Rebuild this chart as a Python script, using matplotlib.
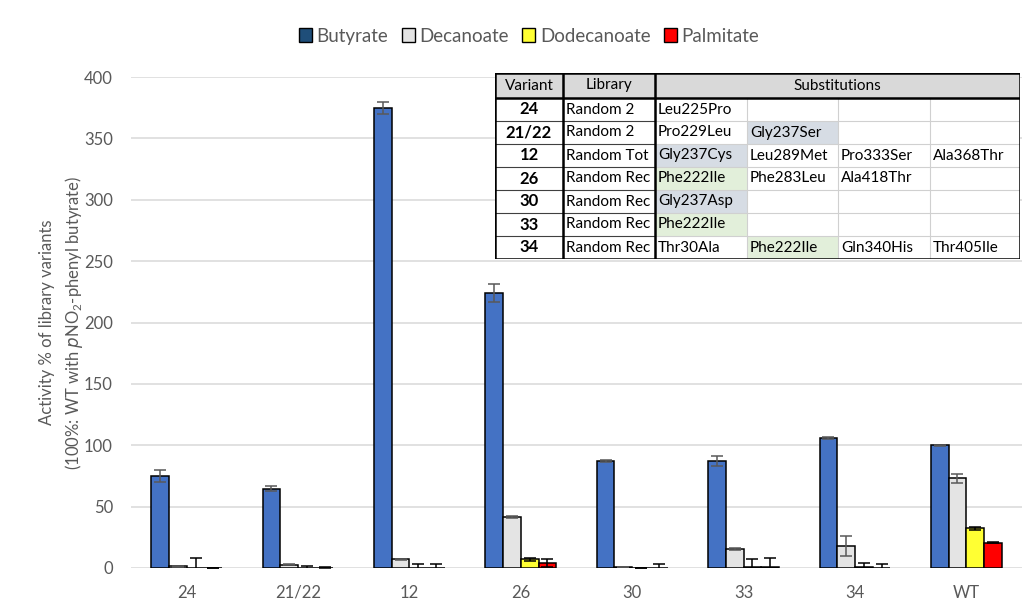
import numpy as np
import matplotlib.pyplot as plt
from matplotlib.patches import Rectangle, Patch

plt.rcParams['font.family'] = ['Lato', 'DejaVu Sans']
plt.rcParams['mathtext.fontset'] = 'custom'
plt.rcParams['mathtext.rm'] = 'Lato'
plt.rcParams['mathtext.it'] = 'DejaVu Sans:italic'

# activity (% of WT with pNO2-phenyl butyrate) per variant and substrate
variants = ['24', '21/22', '12', '26', '30', '33', '34', 'WT']
substrates = ['Butyrate', 'Decanoate', 'Dodecanoate', 'Palmitate']

butyrate = [75, 64.5, 375, 224, 87, 87, 106, 100]
butyrate_err = [5, 2, 5, 7, 0.6, 4, 0.6, 0.6]
decanoate = [1.5, 2.8, 7, 41.5, 0.5, 15.5, 18, 73]
decanoate_err = [0.4, 0.4, 0.4, 0.8, 0, 0.5, 8, 3.5]
dodecanoate = [0, 0, 0, 7, 0, 1, 0.8, 32.5]
dodecanoate_err = [8, 1.5, 3.5, 1.5, 0, 6, 3.5, 1.2]
palmitate = [0, 0.4, 0, 4, 0, 1, 0, 20.5]
palmitate_err = [0, 0.4, 3.5, 3, 3, 7, 3, 0.3]

series = [butyrate, decanoate, dodecanoate, palmitate]
series_err = [butyrate_err, decanoate_err, dodecanoate_err, palmitate_err]
colors = ['#4472C4', '#E4E4E4', '#FFFF33', '#FF0000']
legend_colors = ['#1F4E79', '#E4E4E4', '#FFFF33', '#FF0000']
err_colors = ['#595959', '#595959', '#000000', '#000000']

# substitution table shown over the chart
table_header = ['Variant', 'Library', 'Substitutions']
table_variants = ['24', '21/22', '12', '26', '30', '33', '34']
table_library = ['Random 2', 'Random 2', 'Random Tot', 'Random Rec',
                 'Random Rec', 'Random Rec', 'Random Rec']
table_subs = [
    ['Leu225Pro'],
    ['Pro229Leu', 'Gly237Ser'],
    ['Gly237Cys', 'Leu289Met', 'Pro333Ser', 'Ala368Thr'],
    ['Phe222Ile', 'Phe283Leu', 'Ala418Thr'],
    ['Gly237Asp'],
    ['Phe222Ile'],
    ['Thr30Ala', 'Phe222Ile', 'Gln340His', 'Thr405Ile'],
]
shade = {'Gly237': '#D6DCE4', 'Phe222': '#E2EFDA'}

text_grey = '#595959'

fig = plt.figure(figsize=(10.34, 6.11), dpi=100)
ax = fig.add_axes([131 / 1034, 1 - 568 / 611, 891 / 1034, 491 / 611])

x = np.arange(len(variants))
width = 0.159
for i, (vals, errs) in enumerate(zip(series, series_err)):
    pos = x + (i - 1.5) * width
    ax.bar(pos, vals, width, color=colors[i], edgecolor='black',
           linewidth=1.1, zorder=3)
    ax.errorbar(pos, vals, yerr=errs, fmt='none', ecolor=err_colors[i],
                elinewidth=1.1, capsize=4, capthick=1.1, zorder=4)

ax.set_xlim(-0.5, len(variants) - 0.5)
ax.set_ylim(0, 400)
ax.set_yticks(np.arange(0, 401, 50))
ax.set_xticks(x)
ax.set_xticklabels(variants)
ax.tick_params(length=0, labelsize=12, labelcolor=text_grey)
ax.tick_params(axis='y', pad=13)
ax.tick_params(axis='x', pad=12)
ax.grid(axis='y', color='#D9D9D9', linewidth=1.1, zorder=0)
for s in ax.spines.values():
    s.set_visible(False)
ax.set_ylabel('Activity % of library variants\n'
              r'(100%: WT with $\it{p}$NO$_2$-phenyl butyrate)',
              fontsize=12, color=text_grey, linespacing=1.45)
ax.yaxis.set_label_coords(-0.052, 0.5)

handles = [Patch(facecolor=c, edgecolor='black', linewidth=1) for c in legend_colors]
fig.legend(handles, substrates, loc='center', bbox_to_anchor=(0.5116, 0.941),
           ncol=4, frameon=False, fontsize=13.5, handlelength=0.7,
           handleheight=0.7, handletextpad=0.25, columnspacing=0.7,
           labelcolor=text_grey)

# table drawn in pixel-like units on its own axes
tx = fig.add_axes([495 / 1034, 1 - 259 / 611, 525 / 1034, 186 / 611])
tx.set_xlim(495, 1020)
tx.set_ylim(259, 73)
tx.axis('off')
cols = [495, 563, 655, 747, 838, 930, 1020]
top, head_bottom = 73, 98
row_h = (259 - head_bottom) / len(table_variants)
rows = [head_bottom + k * row_h for k in range(len(table_variants) + 1)]

tx.add_patch(Rectangle((cols[0], top), cols[-1] - cols[0], 259 - top,
                       facecolor='white', edgecolor='none', zorder=1))
tx.add_patch(Rectangle((cols[0], top), cols[-1] - cols[0], head_bottom - top,
                       facecolor='#D9D9D9', edgecolor='none', zorder=1))
for r, subs in enumerate(table_subs):
    for c, name in enumerate(subs):
        fill = shade.get(name[:6])
        if fill is not None:
            tx.add_patch(Rectangle((cols[2 + c], rows[r]), cols[3 + c] - cols[2 + c],
                                   row_h, facecolor=fill, edgecolor='none', zorder=1))

# thin inner grid
for yy in rows[1:-1]:
    tx.plot([cols[0], cols[2]], [yy, yy], color='#404040', lw=0.8, zorder=2)
    tx.plot([cols[2], cols[-1]], [yy, yy], color='#D0D0D0', lw=0.8, zorder=2)
for xx in cols[3:-1]:
    tx.plot([xx, xx], [head_bottom, 259], color='#D0D0D0', lw=0.8, zorder=2)
# heavy borders
tx.plot([cols[0], cols[-1]], [head_bottom, head_bottom], color='black', lw=1.8, zorder=3)
for xx in cols[1:3]:
    tx.plot([xx, xx], [top, 259], color='black', lw=1.8, zorder=3)
tx.add_patch(Rectangle((cols[0], top), cols[-1] - cols[0], 259 - top,
                       facecolor='none', edgecolor='black', lw=1.8, zorder=3))

hy = (top + head_bottom) / 2
tx.text((cols[0] + cols[1]) / 2, hy, table_header[0], ha='center', va='center',
        fontsize=11, zorder=4)
tx.text((cols[1] + cols[2]) / 2, hy, table_header[1], ha='center', va='center',
        fontsize=11, zorder=4)
tx.text((cols[2] + cols[-1]) / 2, hy, table_header[2], ha='center', va='center',
        fontsize=11, zorder=4)
for r in range(len(table_variants)):
    cy = rows[r] + row_h / 2
    tx.text((cols[0] + cols[1]) / 2, cy, table_variants[r], ha='center',
            va='center', fontsize=12, fontweight='bold', zorder=4)
    tx.text(cols[1] + 3, cy, table_library[r], ha='left', va='center',
            fontsize=11, zorder=4)
    for c, name in enumerate(table_subs[r]):
        tx.text(cols[2 + c] + 3, cy, name, ha='left', va='center',
                fontsize=11, zorder=4)

fig.savefig('out.png', dpi=100)
